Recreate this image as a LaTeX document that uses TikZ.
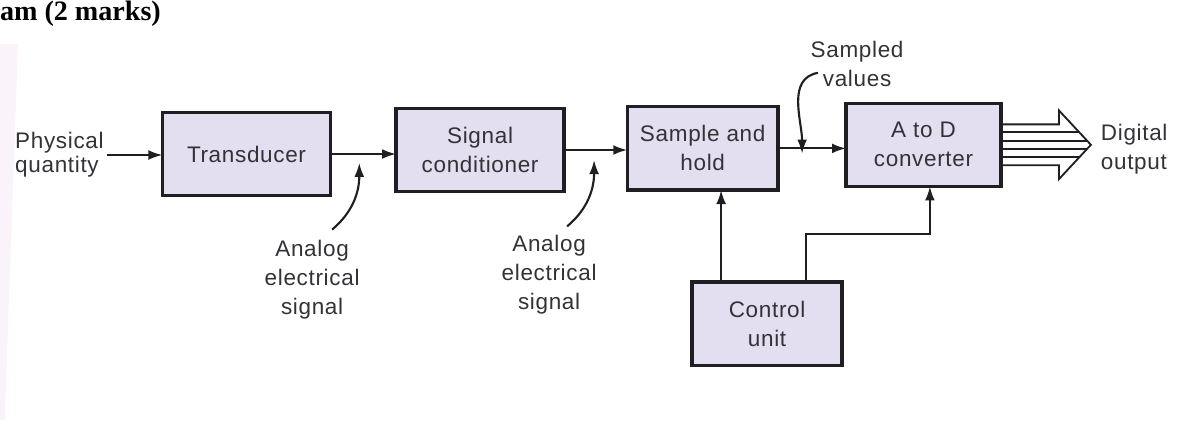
\documentclass[tikz,border=0pt]{standalone}
\usepackage{fontspec}
\setmainfont{Liberation Sans}[LetterSpace=3]
\newfontfamily\headfont{Liberation Serif}
\usetikzlibrary{arrows.meta,positioning}

\definecolor{boxfill}{RGB}{228,223,240}
\definecolor{ink}{RGB}{50,50,55}
\definecolor{wire}{RGB}{30,30,35}
\definecolor{scanedge}{RGB}{251,243,250}

\begin{document}
\begin{tikzpicture}[every node/.style={outer sep=0pt},
 block/.style={draw=wire,line width=2.4pt,fill=boxfill,minimum height=2.08cm,
 align=center,text=ink,font=\fontsize{16pt}{20.6pt}\selectfont},
 lbl/.style={inner sep=2pt,text=ink,font=\fontsize{16pt}{20.6pt}\selectfont},
 conn/.style={draw=wire,line width=1.5pt,-{Latex[length=10pt,width=7pt]}},
 bus/.style={draw=wire,line width=1.3pt,line join=miter}]
\useasboundingbox (0,0) rectangle (30.05,-10.5);
\fill[scanedge] (0,-1.1) -- (0.45,-1.1) -- (0.12,-10.5) -- (0,-10.5) -- cycle;

\node[anchor=base west,inner sep=0pt,font=\headfont\bfseries\fontsize{20pt}{24pt}\selectfont] (title) at (0,-0.5) {am (2 marks)};

  \node[block,minimum width=4.2cm] (td) at (6.1625,-3.85) {Transducer};
  \node[block,minimum width=4.2cm,right=1.64cm of td,yshift=0.1cm] (sc) {Signal\\conditioner};
  \node[block,minimum width=3.77cm,right=1.58cm of sc,yshift=0.04cm] (sh) {Sample and\\hold};
  \node[block,minimum width=3.87cm,right=1.7cm of sh,yshift=0.09cm] (ad) {A to D\\converter};
  \node[block,minimum width=3.75cm,below=2.3cm of sh,xshift=1.61cm] (cu) {Control\\unit};

\node[lbl,align=left,font=\fontsize{16pt}{17pt}\selectfont,left=1.4cm of td,yshift=-0.025cm] (pq) {Physical\\quantity};
\node[lbl,align=center,below=1.05cm of td,xshift=1.64cm] (al1) {Analog\\electrical\\signal};
\node[lbl,align=center,below=1.02cm of sc,xshift=1.725cm] (al2) {Analog\\electrical\\signal};
\node[lbl,align=center,above=0.34cm of ad,xshift=-1.66cm] (sv) {Sampled\\values};

\draw[conn] (pq.east) -- (pq.east -| td.west);
\draw[conn] (td.east) -- (td.east -| sc.west);
\draw[conn] (sc.east) -- (sc.east -| sh.west);
\draw[conn] (sh.east) -- (sh.east -| ad.west);

% pointers from the side labels onto the signal lines
\coordinate (s1) at ([xshift=0.72cm,yshift=-0.22cm]td.east);
\coordinate (s2) at ([xshift=0.75cm,yshift=-0.25cm]sc.east);
\coordinate (s3) at ([xshift=0.6cm,yshift=-0.13cm]sh.east);
\draw[conn] ([xshift=0.5cm,yshift=0.2cm]al1.north) to[out=40,in=-90] (s1);
\draw[conn] ([xshift=0.45cm,yshift=0.15cm]al2.north) to[out=40,in=-90] (s2);
\draw[conn] ([xshift=0.25cm,yshift=-0.22cm]sv.west) to[out=190,in=90] (s3);

\draw[conn] ([xshift=0.725cm]cu.north west) -- ([xshift=0.725cm]cu.north west |- sh.south);
\draw[conn] ([xshift=2.85cm]cu.north west) |- ([xshift=0.16cm,yshift=-1.2cm]ad.south) -- ([xshift=0.16cm]ad.south);

% digital output bus
\coordinate (tip) at ([xshift=2.25cm]ad.east);
\draw[bus] ([yshift=0.51cm]ad.east) -- ++(1.45,0) -- ++(0,0.35) -- (tip)
 -- ++(-0.8,-0.86) -- ++(0,0.35) -- ([yshift=-0.51cm]ad.east);
\foreach \y in {-0.31,-0.1,0.1,0.31}
 \draw[bus] ([yshift=\y cm]ad.east) -- ++({2.25-abs(\y)*0.8/0.86},0);
\node[lbl,align=left,right=0.18cm of tip,yshift=-0.1cm] (dout) {Digital\\output};

\end{tikzpicture}
\end{document}
